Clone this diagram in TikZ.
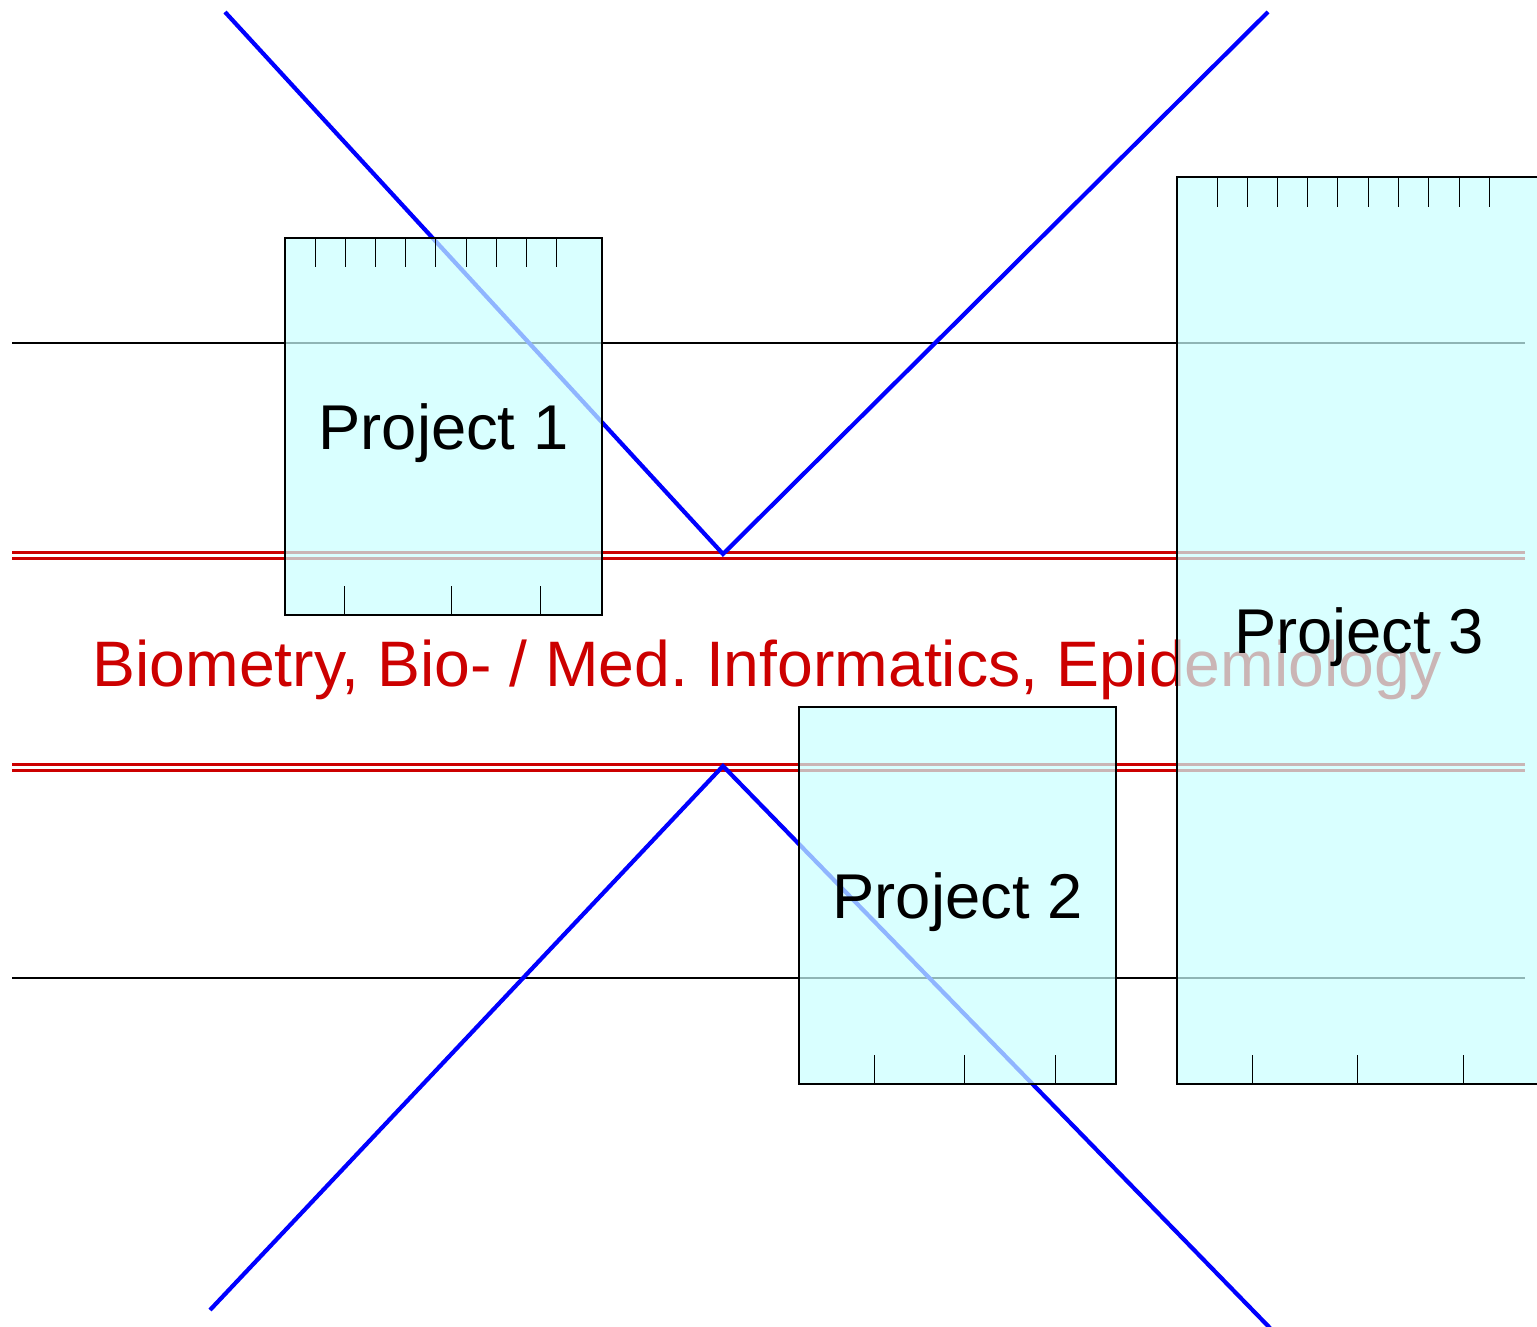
\documentclass[tikz,border=0pt]{standalone}
\usepackage{fontspec}
\setmainfont{Liberation Sans}
\usepackage{xcolor}
\usetikzlibrary{positioning}
\definecolor{bmred}{RGB}{204,0,0}
\definecolor{bmblue}{RGB}{0,0,255}
\definecolor{prcyan}{RGB}{202,255,255}
\newcommand{\bigfont}[0]{\fontsize{64.3}{72}\selectfont}
\newcommand{\boxfont}[0]{\fontsize{63.3}{72}\selectfont}
\frenchspacing

\begin{document}
\begin{tikzpicture}[x=1pt,y=-1pt,line join=miter]
  \tikzstyle{rule}=[black, line width=1.3]
  \tikzstyle{field}=[bmred, line width=2.5, double=white, double distance=3.5]
  \tikzstyle{vee}=[bmblue, line width=4.2]
  \tikzstyle{project}=[draw=black, line width=1.3, fill=prcyan, fill opacity=0.71,
    draw opacity=1, text opacity=1, inner sep=0pt, text depth=0pt, font=\boxfont]
  \tikzstyle{tick}=[black, line width=1.3]

  \useasboundingbox (0,0) rectangle (1537,1326);

  % horizontal lines
  \coordinate (L1) at (12,343);   \coordinate (R1) at (1525,343);
  \coordinate (L2) at (12,555.5); \coordinate (R2) at (1525,555.5);
  \coordinate (L3) at (12,767.5); \coordinate (R3) at (1525,767.5);
  \coordinate (L4) at (12,978);   \coordinate (R4) at (1525,978);
  \draw[rule]  (L1) -- (R1);
  \draw[field] (L2) -- (R2);
  \draw[field] (L3) -- (R3);
  \draw[rule]  (L4) -- (R4);

  % the two V's
  \coordinate (A1) at (225,12);  \coordinate (T1) at (723,554); \coordinate (B1) at (1268,12);
  \coordinate (A2) at (210,1310); \coordinate (T2) at (723,766); \coordinate (B2) at (1270,1328);
  \draw[vee] (A1) -- (T1) -- (B1);
  \draw[vee] (A2) -- (T2) -- (B2);

  \node[bmred, font=\bigfont, anchor=base] (field) at (767.5,686)
    {Biometry, Bio- / Med. Informatics, Epidemiology};

  % projects
  \node[project, minimum width=317, minimum height=377] (P1) at (443.5,426.5) {Project 1};
  \node[project, minimum width=317, minimum height=377] (P2) at (957.5,895.5) {Project 2};
  \node[project, minimum width=364, minimum height=907] (P3) at (1359,630.5) {Project 3};

  \foreach \t in {31,61,91,121,151,182,212,242,272}
    \draw[tick] ([xshift=\t]P1.north west) -- ++(0,30);
  \foreach \t in {60,167,256}
    \draw[tick] ([xshift=\t]P1.south west) -- ++(0,-30);
  \foreach \t in {76,166,257}
    \draw[tick] ([xshift=\t]P2.south west) -- ++(0,-30);
  \foreach \t in {41,71,101,131,161,192,222,252,283,313}
    \draw[tick] ([xshift=\t]P3.north west) -- ++(0,31);
  \foreach \t in {76,181,287}
    \draw[tick] ([xshift=\t]P3.south west) -- ++(0,-30);
\end{tikzpicture}
\end{document}
